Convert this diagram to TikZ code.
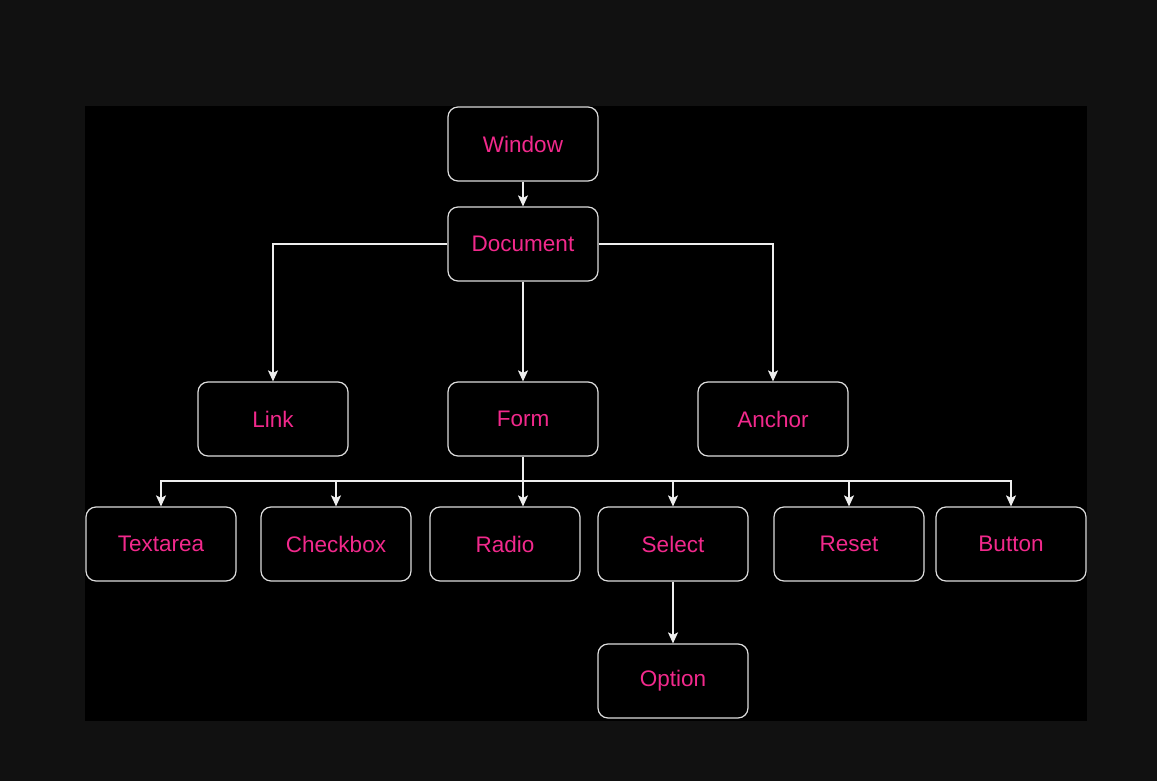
\documentclass[tikz,border=0pt]{standalone}
\usepackage{fontspec}
\setmainfont{Liberation Sans}
\usetikzlibrary{arrows.meta}
\definecolor{outerbg}{HTML}{111111}
\definecolor{labelpink}{HTML}{F2298C}
\definecolor{boxline}{HTML}{DCDCDC}
\definecolor{wireline}{HTML}{EEEEEE}
\tikzset{
  box/.style = {draw=boxline, line width=1.2pt, rounded corners=10pt, fill=black,
    minimum width=150pt, minimum height=74pt, inner sep=0pt,
    text=labelpink, font=\fontsize{22.5}{27}\selectfont},
  wire/.style = {draw=wireline, line width=1.3pt},
  arrow/.style = {wire, -{Stealth[length=11pt, width=10pt, inset=2.5pt]}}
}
\begin{document}
\begin{tikzpicture}[x=1pt, y=-1pt]
\fill[outerbg] (0,0) rectangle (1157,781);
\fill[black] (85,106) rectangle (1087,720.5);
\useasboundingbox (0,0) rectangle (1157,781);
\begin{scope}[every node/.style = {box}]
\node (window) at (523, 144) {Window};
\node (document) at (523, 244) {Document};
\node (link) at (273, 419) {Link};
\node (form) at (523, 419) {Form};
\node (anchor) at (773, 419) {Anchor};
\node (textarea) at (161, 544) {Textarea};
\node (checkbox) at (336, 544) {Checkbox};
\node (radio) at (505, 544) {Radio};
\node (select) at (673, 544) {Select};
\node (reset) at (849, 544) {Reset};
\node (button) at (1011, 544) {Button};
\node (option) at (673, 681) {Option};
\end{scope}
\coordinate (bus) at (523, 481);
\draw[arrow] (window) -- (document);
\draw[arrow] (document.west) -| (link.north);
\draw[arrow] (document.east) -| (anchor.north);
\draw[arrow] (document) -- (form);
\draw[wire] (form.south) -- (bus);
\draw[arrow] (bus) -| (textarea.north);
\draw[arrow] (bus) -| (checkbox.north);
\draw[arrow] (bus) -- (bus |- radio.north);
\draw[arrow] (bus) -| (select.north);
\draw[arrow] (bus) -| (reset.north);
\draw[arrow] (bus) -| (button.north);
\draw[arrow] (select) -- (option);
\end{tikzpicture}
\end{document}
